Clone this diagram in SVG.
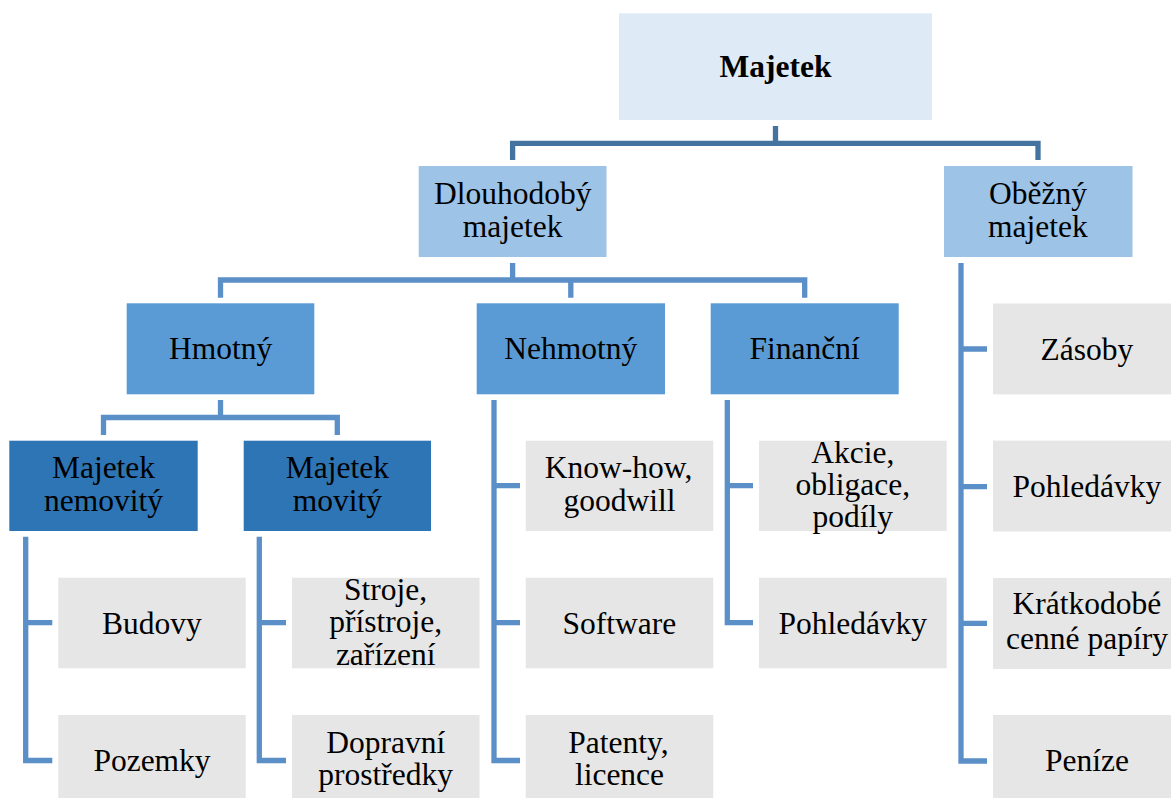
<svg xmlns="http://www.w3.org/2000/svg" width="1171" height="798" viewBox="0 0 1171 798">
<style>
  .l0 { fill: #DEEAF6; }
  .l1 { fill: #9DC3E6; }
  .l2 { fill: #5B9BD5; }
  .l3 { fill: #2E75B6; }
  .leaf { fill: #E6E6E6; }
  .c0 { fill: none; stroke: #44739F; stroke-width: 5.3; }
  .c1 { fill: none; stroke: #5A8FC8; stroke-width: 5.3; }
</style>
<rect width="1171" height="798" fill="#FFFFFF"/>
<g id="connectors">
  <path class="c0" d="M775.5 126 V143.3 M512.6 160 V143.3 H1038 V160"/>
  <path class="c1" d="M512.6 263 V280 M220.5 297.7 V280 H804.7 V297.7 M570.8 280 V297.7"/>
  <path class="c1" d="M220.5 400 V417.5 M103.5 435 V417.5 H337.3 V435"/>
  <path class="c1" d="M25.7 536.7 V760.5 H52.3 M25.7 622.7 H52.3"/>
  <path class="c1" d="M259.3 536.7 V760.5 H286 M259.3 622.7 H286"/>
  <path class="c1" d="M494 400 V760.5 H520 M494 485.7 H520 M494 622.7 H520"/>
  <path class="c1" d="M727.3 400 V622.7 H753 M727.3 485.7 H753"/>
  <path class="c1" d="M961 263 V761 H987 M961 349 H987 M961 486.7 H987 M961 623.4 H987"/>
</g>
<g id="majetek">
  <rect class="l0" x="619" y="13.3" width="313" height="106.7"/>
  <text x="719.5" y="77.3" font-family="Liberation Serif" font-size="31.5" font-weight="bold">Majetek</text>
</g>
<g id="dlouhodoby">
  <rect class="l1" x="418.7" y="166" width="187.8" height="91"/>
  <text x="433.9" y="204" font-family="Liberation Serif" font-size="31.5">Dlouhodobý</text>
  <text x="462.7" y="236.7" font-family="Liberation Serif" font-size="31.5">majetek</text>
</g>
<g id="obezny">
  <rect class="l1" x="944" y="166" width="188.5" height="91"/>
  <text x="989" y="204" font-family="Liberation Serif" font-size="31.5">Oběžný</text>
  <text x="988.1" y="236.7" font-family="Liberation Serif" font-size="31.5">majetek</text>
</g>
<g id="hmotny">
  <rect class="l2" x="126.7" y="303.3" width="187.6" height="91"/>
  <text x="168.9" y="359.3" font-family="Liberation Serif" font-size="31.5">Hmotný</text>
</g>
<g id="nehmotny">
  <rect class="l2" x="476.7" y="303.3" width="188.3" height="91"/>
  <text x="504.3" y="359.3" font-family="Liberation Serif" font-size="31.5">Nehmotný</text>
</g>
<g id="financni">
  <rect class="l2" x="710.7" y="303.3" width="188" height="91"/>
  <text x="749.6" y="359.3" font-family="Liberation Serif" font-size="31.5">Finanční</text>
</g>
<g id="nemovity">
  <rect class="l3" x="9.3" y="440.7" width="188.4" height="90.3"/>
  <text x="51.9" y="478.3" font-family="Liberation Serif" font-size="31.5">Majetek</text>
  <text x="44" y="511" font-family="Liberation Serif" font-size="31.5">nemovitý</text>
</g>
<g id="movity">
  <rect class="l3" x="243.7" y="440.7" width="187.3" height="90.3"/>
  <text x="285.7" y="478.3" font-family="Liberation Serif" font-size="31.5">Majetek</text>
  <text x="292.7" y="511" font-family="Liberation Serif" font-size="31.5">movitý</text>
</g>
<g id="budovy">
  <rect class="leaf" x="58.3" y="577.7" width="187.4" height="90.6"/>
  <text x="102.1" y="633.5" font-family="Liberation Serif" font-size="31.5">Budovy</text>
</g>
<g id="pozemky">
  <rect class="leaf" x="58.3" y="715" width="187.4" height="90.6"/>
  <text x="93.4" y="771" font-family="Liberation Serif" font-size="31.5">Pozemky</text>
</g>
<g id="stroje">
  <rect class="leaf" x="292" y="577.7" width="187.5" height="90.6"/>
  <text x="344.1" y="599.5" font-family="Liberation Serif" font-size="31.5">Stroje,</text>
  <text x="329.3" y="632" font-family="Liberation Serif" font-size="31.5">přístroje,</text>
  <text x="335.9" y="664.5" font-family="Liberation Serif" font-size="31.5">zařízení</text>
</g>
<g id="dopravni">
  <rect class="leaf" x="292" y="715" width="187.5" height="90.6"/>
  <text x="326.2" y="752.5" font-family="Liberation Serif" font-size="31.5">Dopravní</text>
  <text x="318.3" y="785.3" font-family="Liberation Serif" font-size="31.5">prostředky</text>
</g>
<g id="knowhow">
  <rect class="leaf" x="525.7" y="440.7" width="187.6" height="90.3"/>
  <text x="544.7" y="478.3" font-family="Liberation Serif" font-size="31.5">Know-how,</text>
  <text x="563.5" y="511" font-family="Liberation Serif" font-size="31.5">goodwill</text>
</g>
<g id="software">
  <rect class="leaf" x="525.7" y="577.7" width="187.6" height="90.6"/>
  <text x="562.6" y="633.5" font-family="Liberation Serif" font-size="31.5">Software</text>
</g>
<g id="patenty">
  <rect class="leaf" x="525.7" y="715" width="187.6" height="90.6"/>
  <text x="568.3" y="752.5" font-family="Liberation Serif" font-size="31.5">Patenty,</text>
  <text x="574.9" y="785.3" font-family="Liberation Serif" font-size="31.5">licence</text>
</g>
<g id="akcie">
  <rect class="leaf" x="759" y="440.7" width="187.7" height="90.3"/>
  <text x="811.3" y="462.5" font-family="Liberation Serif" font-size="31.5">Akcie,</text>
  <text x="795.5" y="494.5" font-family="Liberation Serif" font-size="31.5">obligace,</text>
  <text x="812.6" y="526.5" font-family="Liberation Serif" font-size="31.5">podíly</text>
</g>
<g id="pohledavky-fin">
  <rect class="leaf" x="759" y="577.7" width="187.7" height="90.6"/>
  <text x="778.4" y="633.5" font-family="Liberation Serif" font-size="31.5">Pohledávky</text>
</g>
<g id="zasoby">
  <rect class="leaf" x="993" y="303.5" width="188" height="90.9"/>
  <text x="1040.6" y="359.5" font-family="Liberation Serif" font-size="31.5">Zásoby</text>
</g>
<g id="pohledavky-ob">
  <rect class="leaf" x="993" y="440.6" width="188" height="90.9"/>
  <text x="1012.6" y="497" font-family="Liberation Serif" font-size="31.5">Pohledávky</text>
</g>
<g id="kratkodobe">
  <rect class="leaf" x="993" y="578" width="188" height="90.9"/>
  <text x="1012.6" y="614" font-family="Liberation Serif" font-size="31.5">Krátkodobé</text>
  <text x="1006.1" y="648.6" font-family="Liberation Serif" font-size="31.5">cenné papíry</text>
</g>
<g id="penize">
  <rect class="leaf" x="993" y="715" width="188" height="90.9"/>
  <text x="1045" y="771" font-family="Liberation Serif" font-size="31.5">Peníze</text>
</g>
</svg>
